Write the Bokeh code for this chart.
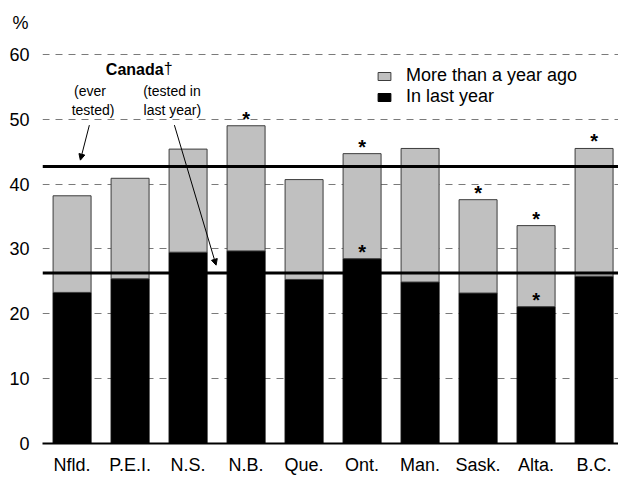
from bokeh.plotting import figure
from bokeh.models import (Range1d, FixedTicker, Span, Label, Arrow, NormalHead,
                          Legend, LegendItem, ColumnDataSource, Title)
from bokeh.core.properties import value
from bokeh.embed import file_html
from bokeh.resources import INLINE

# ---------------- data ----------------
provinces = ["Nfld.", "P.E.I.", "N.S.", "N.B.", "Que.", "Ont.", "Man.", "Sask.", "Alta.", "B.C."]
ever_tested = [38.2, 40.9, 45.4, 49.0, 40.7, 44.7, 45.5, 37.6, 33.6, 45.5]
last_year = [23.3, 25.4, 29.5, 29.7, 25.3, 28.5, 24.9, 23.2, 21.1, 25.8]
star_ever = ["N.B.", "Ont.", "Sask.", "Alta.", "B.C."]
star_last = ["Ont.", "Alta."]
canada_ever = 42.7
canada_last = 26.3
y_ticks = [0, 10, 20, 30, 40, 50, 60]

FONT = "'Liberation Sans', Arial"

xs = list(range(len(provinces)))
more_than = [round(e - l, 2) for e, l in zip(ever_tested, last_year)]
src = ColumnDataSource(dict(x=xs, last=last_year, more=more_than))

p = figure(width=618, height=477, output_backend="svg", toolbar_location=None,
           x_range=Range1d(-0.51, 9.421), y_range=Range1d(0, 62.92),
           min_border_left=42, min_border_right=0, min_border_top=35, min_border_bottom=33)
p.outline_line_color = None
p.background_fill_color = "white"

p.add_layout(Title(text="%", align="left", offset=-30, standoff=5,
                   text_font=FONT, text_font_size="18px", text_font_style="normal",
                   text_color="black"), "above")

# grid
p.xgrid.grid_line_color = None
p.ygrid.ticker = FixedTicker(ticks=y_ticks[1:])
p.ygrid.grid_line_color = "#7a7a7a"
p.ygrid.grid_line_dash = "7 6"
p.ygrid.grid_line_width = 1

# bars
r = p.vbar_stack(["last", "more"], x="x", width=0.655, source=src,
                 fill_color=["black", "#c0c0c0"],
                 line_color=["black", "#3c3c3c"], line_width=1)

# axes
for ax in (p.xaxis, p.yaxis):
    ax.major_tick_out = 0
    ax.major_tick_in = 0
    ax.minor_tick_out = 0
    ax.minor_tick_in = 0
    ax.axis_label_standoff = 0
    ax.major_tick_line_color = None
    ax.minor_tick_line_color = None
    ax.major_label_text_font = FONT
    ax.major_label_text_font_size = "18px"
    ax.major_label_text_color = "black"

p.xaxis.ticker = FixedTicker(ticks=xs)
p.xaxis.major_label_overrides = {i: n for i, n in enumerate(provinces)}
p.xaxis.axis_line_color = "black"
p.xaxis.axis_line_width = 2
p.xaxis.major_label_standoff = 11

p.yaxis.ticker = FixedTicker(ticks=y_ticks)
p.yaxis.axis_line_color = None
p.yaxis.major_label_standoff = 13

# Canada reference lines
for v in (canada_ever, canada_last):
    p.add_layout(Span(location=v, dimension="width", line_color="black", line_width=3))

# asterisks
sx = [provinces.index(n) for n in star_ever] + [provinces.index(n) for n in star_last]
sy = [ever_tested[provinces.index(n)] for n in star_ever] + [last_year[provinces.index(n)] for n in star_last]
p.text(x=sx, y=sy, text=["*"] * len(sx), text_align="center", text_baseline="alphabetic",
       y_offset=-7, text_font=value(FONT), text_font_size="20px", text_font_style="bold",
       text_color="black")

# annotations
def lab(x, y, t, size="14px", style="normal"):
    p.add_layout(Label(x=x, y=y, text=t, text_align="center", text_baseline="middle",
                       text_font=FONT, text_font_size=size, text_font_style=style,
                       text_color="black"))

lab(1.08, 57.6, "Canada", size="16px", style="bold")
p.add_layout(Label(x=1.08, y=57.9, text="\u2020", text_align="left", text_baseline="middle",
                   x_offset=29, text_font=FONT, text_font_size="16px", text_color="black"))
lab(0.309, 54.4, "(ever")
lab(0.362, 51.4, "tested)")
lab(1.722, 54.4, "(tested in")
lab(1.728, 51.4, "last year)")

p.add_layout(Arrow(x_start=0.298, y_start=49.1, x_end=0.143, y_end=43.7,
                   line_width=1, line_color="black",
                   end=NormalHead(size=6, line_width=1, line_color="black", fill_color="black")))
p.add_layout(Arrow(x_start=1.764, y_start=49.1, x_end=2.483, y_end=27.5,
                   line_width=1, line_color="black",
                   end=NormalHead(size=6, line_width=1, line_color="black", fill_color="black")))

# legend
legend = Legend(items=[LegendItem(label="More than a year ago", renderers=[r[1]]),
                       LegendItem(label="In last year", renderers=[r[0]])],
                location=(334, 336), orientation="vertical",
                glyph_width=16, glyph_height=10, label_standoff=14, spacing=-2,
                label_height=20, padding=0, margin=0,
                border_line_color=None, background_fill_alpha=0,
                label_text_font=FONT, label_text_font_size="18px", label_text_color="black")
p.add_layout(legend)

open("out.html", "w").write(file_html(p, INLINE))
